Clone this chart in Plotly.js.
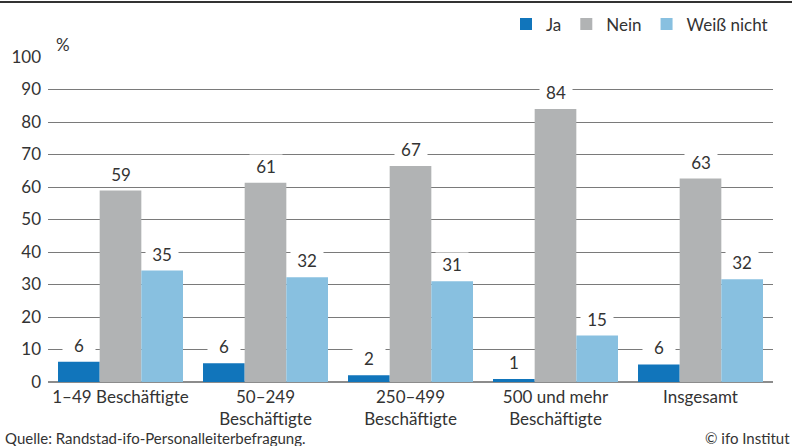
<!DOCTYPE html>
<html>
<head>
<meta charset="utf-8">
<script src="https://cdn.plot.ly/plotly-3.0.1.min.js"></script>
<style>
  html, body { margin: 0; padding: 0; background: #fff; }
  #wrap { position: relative; width: 792px; height: 446px; }
  #chart { width: 792px; height: 446px; }
  #topline { position: absolute; left: 0; top: 1px; width: 792px; height: 2px; background: #333; }
</style>
</head>
<body>
<div id="wrap">
  <div id="chart"></div>
  <div id="topline"></div>
</div>
<script>
const categories = ["1–49 Beschäftigte", "50–249<br>Beschäftigte", "250–499<br>Beschäftigte", "500 und mehr<br>Beschäftigte", "Insgesamt"];
const seriesNames = ["Ja", "Nein", "Weiß nicht"];
const jaValues = [6.2, 5.8, 2.1, 0.9, 5.4];
const neinValues = [58.9, 61.3, 66.5, 84.0, 62.6];
const weissValues = [34.3, 32.2, 31.0, 14.3, 31.6];
const jaLabels = ["6", "6", "2", "1", "6"];
const neinLabels = ["59", "61", "67", "84", "63"];
const weissLabels = ["35", "32", "31", "15", "32"];
const yTicks = [0, 10, 20, 30, 40, 50, 60, 70, 80, 90, 100];
const colors = ["#1175bb", "#b1b3b4", "#88c0e0"];

const FONT = "Lato, 'Noto Sans', sans-serif";
const TXT = "#333333";
const values = [jaValues, neinValues, weissValues];
const labels = [jaLabels, neinLabels, weissLabels];

const margin = {l: 48, r: 19, t: 57, b: 64, autoexpand: false};
const bargap = 0.138;
const plotW = 792 - margin.l - margin.r;
const barW = plotW / categories.length * (1 - bargap) / 3;

const traces = seriesNames.map((name, i) => ({
  type: "bar",
  name: name,
  x: categories,
  y: values[i],
  marker: {color: colors[i], line: {width: 0}},
  hoverinfo: "skip"
}));

const annotations = [];
for (let i = 0; i < 3; i++) {
  for (let j = 0; j < categories.length; j++) {
    annotations.push({
      x: categories[j], y: values[i][j], xref: "x", yref: "y",
      text: labels[i][j], showarrow: false,
      xshift: (i - 1) * barW, yshift: 17,
      xanchor: "center", yanchor: "middle",
      bgcolor: "#ffffff", width: 30, height: 20,
      font: {family: FONT, size: 17, color: TXT}
    });
  }
}
annotations.push({
  xref: "paper", yref: "paper", x: 0, y: 1, xanchor: "left", yanchor: "bottom",
  xshift: 6, yshift: 0, text: "%", showarrow: false,
  font: {family: FONT, size: 17, color: TXT}
});
annotations.push({
  xref: "paper", yref: "paper", x: 0, y: 0, xanchor: "left", yanchor: "middle",
  xshift: -44, yshift: -55.5, borderpad: 0, text: "Quelle: Randstad-ifo-Personalleiterbefragung.", showarrow: false,
  font: {family: FONT, size: 15, color: TXT}
});
annotations.push({
  xref: "paper", yref: "paper", x: 1, y: 0, xanchor: "right", yanchor: "middle",
  xshift: 18, yshift: -55.5, borderpad: 0, text: "© ifo Institut", showarrow: false,
  font: {family: FONT, size: 15, color: TXT}
});

const layout = {
  width: 792, height: 446,
  margin: margin,
  paper_bgcolor: "#ffffff", plot_bgcolor: "#ffffff",
  font: {family: FONT, size: 17, color: TXT},
  barmode: "group", bargap: bargap, bargroupgap: 0,
  showlegend: true,
  legend: {
    orientation: "h", x: 1, xanchor: "right", y: 1.1, yanchor: "middle",
    font: {family: FONT, size: 17, color: TXT}, traceorder: "normal",
    itemclick: false, itemdoubleclick: false, itemwidth: 30
  },
  xaxis: {
    type: "category", showgrid: false, zeroline: false, showline: false,
    ticks: "", ticklabelstandoff: 3, tickfont: {family: FONT, size: 17, color: TXT}
  },
  yaxis: {
    range: [0, 100], tickvals: yTicks, ticktext: yTicks.map(String),
    showgrid: true, gridcolor: "#7a7a7a", gridwidth: 1,
    zeroline: true, zerolinecolor: "#8c8c8c", zerolinewidth: 2,
    showline: false, ticks: "", ticklabelstandoff: 6,
    tickfont: {family: FONT, size: 17, color: TXT}
  },
  annotations: annotations
};

Plotly.newPlot("chart", traces, layout, {staticPlot: true, displayModeBar: false});
</script>
</body>
</html>
